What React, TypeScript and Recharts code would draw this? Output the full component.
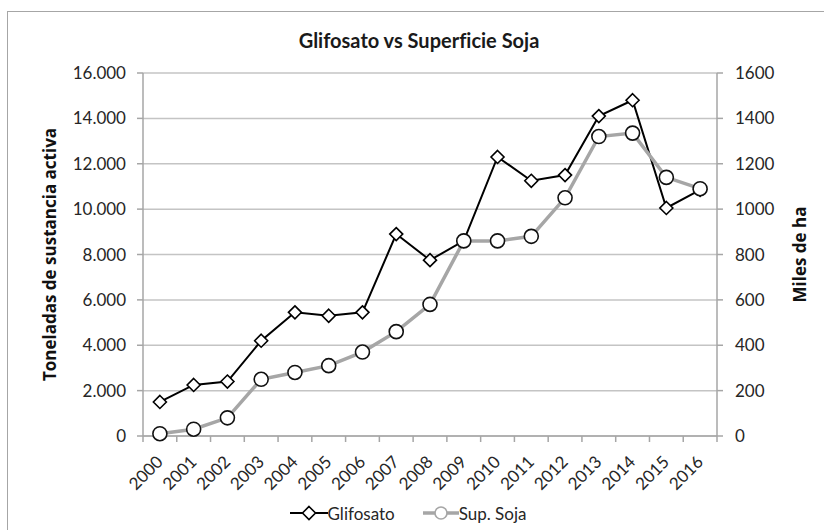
import React from "react";
import {
  LineChart,
  Line,
  XAxis,
  YAxis,
  CartesianGrid,
  Legend,
} from "recharts";

const years = [
  "2000", "2001", "2002", "2003", "2004", "2005", "2006", "2007", "2008",
  "2009", "2010", "2011", "2012", "2013", "2014", "2015", "2016",
];
// toneladas de sustancia activa (eje izquierdo)
const glifosato = [
  1500, 2250, 2400, 4200, 5450, 5300, 5450, 8900, 7750, 8600, 12300, 11250,
  11500, 14100, 14800, 10050, 10850,
];
// miles de ha (eje derecho)
const supSoja = [
  10, 30, 80, 250, 280, 310, 370, 460, 580, 860, 860, 880, 1050, 1320, 1335,
  1140, 1090,
];
const leftTicks = [0, 2000, 4000, 6000, 8000, 10000, 12000, 14000, 16000];
const rightTicks = [0, 200, 400, 600, 800, 1000, 1200, 1400, 1600];

// eje x numérico: marcas en los bordes de cada año, etiqueta en el centro
const xTicks = years
  .map((_, i) => [i, i + 0.5])
  .flat()
  .concat(years.length);

const data = years.map((year, i) => ({
  pos: i + 0.5,
  year,
  glifosato: glifosato[i],
  soja: supSoja[i],
}));

const FONT = "Lato, 'Open Sans', sans-serif";
const AXIS = "#a6a6a6";
const GRID = "#c4c4c4";
const TEXT = "#262626";

const miles = (v: number) =>
  String(v).replace(/\B(?=(\d{3})+(?!\d))/g, ".");

const Diamond = (props: any) => {
  const { cx, cy } = props;
  if (cx == null || cy == null) return null;
  const s = 6.5;
  return (
    <polygon
      points={`${cx},${cy - s} ${cx + s},${cy} ${cx},${cy + s} ${cx - s},${cy}`}
      fill="#fff"
      stroke="#000"
      strokeWidth={1.6}
    />
  );
};

const Ring = (props: any) => {
  const { cx, cy } = props;
  if (cx == null || cy == null) return null;
  return <circle cx={cx} cy={cy} r={7} fill="#fff" stroke="#111" strokeWidth={1.6} />;
};

const YearTick = (props: any) => {
  const { x, y, payload } = props;
  const v = payload.value;
  if (Number.isInteger(v)) {
    return <line x1={x} y1={y} x2={x} y2={y + 6} stroke={AXIS} strokeWidth={1.5} />;
  }
  const label = years[Math.floor(v)];
  const ax = x + 4;
  const ay = y + 27;
  return (
    <text
      x={ax}
      y={ay}
      transform={`rotate(-45, ${ax}, ${ay})`}
      textAnchor="end"
      fontFamily={FONT}
      fontSize={17}
      fill={TEXT}
    >
      {label}
    </text>
  );
};

const LegendBox = () => (
  <div
    style={{
      height: 34,
      display: "flex",
      justifyContent: "center",
      alignItems: "center",
      fontFamily: FONT,
      fontSize: 17,
      color: TEXT,
      paddingRight: 8,
    }}
  >
    <svg width={38} height={16}>
      <line x1={0} y1={8} x2={38} y2={8} stroke="#000" strokeWidth={2} />
      <Diamond cx={19} cy={8} />
    </svg>
    <span style={{ marginRight: 28 }}>Glifosato</span>
    <svg width={36} height={16}>
      <line x1={0} y1={8} x2={36} y2={8} stroke="#a6a6a6" strokeWidth={3.5} />
      <circle cx={18} cy={8} r={6} fill="#fff" stroke="#a6a6a6" strokeWidth={1.6} />
    </svg>
    <span>Sup. Soja</span>
  </div>
);

const labelStyle = {
  fontFamily: "'Open Sans', sans-serif",
  fontWeight: 700,
  fontSize: 17,
  fill: "#111",
  textAnchor: "middle",
};

export default function App() {
  return (
    <div
      style={{
        position: "absolute",
        left: 0,
        top: 0,
        width: 824,
        height: 530,
        background: "#fff",
        overflow: "hidden",
      }}
    >
      <div
        style={{
          position: "absolute",
          left: 7,
          top: 11,
          width: 840,
          height: 540,
          borderLeft: "1.5px solid #a6a6a6",
          borderTop: "1.5px solid #a6a6a6",
        }}
      />
      <div
        style={{
          position: "absolute",
          top: 28,
          left: 0,
          width: 838,
          textAlign: "center",
          fontFamily: FONT,
          fontWeight: 700,
          fontSize: 20,
          fontVariantLigatures: "none",
          color: "#1a1a1a",
        }}
      >
        Glifosato vs Superficie Soja
      </div>
      <LineChart
        width={824}
        height={530}
        data={data}
        margin={{ top: 73, right: 0, left: 0, bottom: 0 }}
        style={{ position: "absolute", left: 0, top: 0 }}
      >
        <CartesianGrid vertical={false} stroke={GRID} strokeWidth={1.5} yAxisId="left" />
        <XAxis
          dataKey="pos"
          type="number"
          domain={[0, years.length]}
          ticks={xTicks}
          interval={0}
          height={60}
          axisLine={{ stroke: AXIS, strokeWidth: 1.5 }}
          tickLine={false}
          tickSize={0}
          tickMargin={0}
          tick={<YearTick />}
        />
        <YAxis
          yAxisId="left"
          orientation="left"
          width={143}
          domain={[0, 16000]}
          ticks={leftTicks}
          tickFormatter={miles}
          axisLine={{ stroke: AXIS, strokeWidth: 1.5 }}
          tickLine={{ stroke: AXIS, strokeWidth: 1.5 }}
          tickSize={6}
          tickMargin={11}
          tick={{ fontFamily: FONT, fontSize: 17, fill: TEXT }}
          label={{
            value: "Toneladas de sustancia activa",
            angle: -90,
            position: "insideLeft",
            offset: 50,
            style: labelStyle,
          }}
        />
        <YAxis
          yAxisId="right"
          orientation="right"
          width={107}
          domain={[0, 1600]}
          ticks={rightTicks}
          axisLine={{ stroke: AXIS, strokeWidth: 1.5 }}
          tickLine={{ stroke: AXIS, strokeWidth: 1.5 }}
          tickSize={6}
          tickMargin={12}
          tick={{ fontFamily: FONT, fontSize: 17, fill: TEXT }}
          label={{
            value: "Miles de ha",
            angle: -90,
            position: "insideRight",
            offset: 24,
            style: labelStyle,
          }}
        />
        <Legend verticalAlign="bottom" content={<LegendBox />} />
        <Line
          yAxisId="left"
          dataKey="glifosato"
          name="Glifosato"
          stroke="#000"
          strokeWidth={2}
          dot={<Diamond />}
          activeDot={false}
          isAnimationActive={false}
        />
        <Line
          yAxisId="right"
          dataKey="soja"
          name="Sup. Soja"
          stroke="#a6a6a6"
          strokeWidth={3.5}
          dot={<Ring />}
          activeDot={false}
          isAnimationActive={false}
        />
      </LineChart>
    </div>
  );
}
